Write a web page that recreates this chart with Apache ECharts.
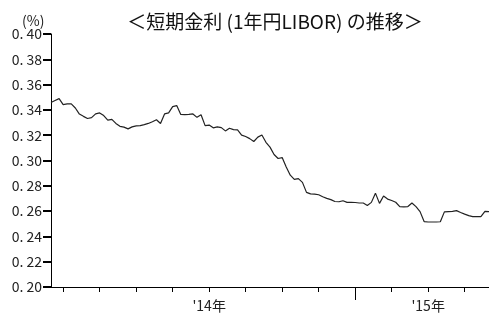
<!DOCTYPE html>
<html>
<head>
<meta charset="utf-8">
<script src="https://cdn.jsdelivr.net/npm/echarts@6/dist/echarts.min.js"></script>
<style>
  html, body { margin: 0; padding: 0; background: #fff; }
  #chart { width: 489px; height: 314px; }
</style>
</head>
<body>
<div id="chart"></div>
<script>
/** 1年円LIBOR (週次, %) */
var rates = [
    0.3459, 0.3474, 0.3489, 0.3442, 0.3448, 0.3448, 0.3415, 0.3367, 0.3349, 0.3332,
    0.3339, 0.3369, 0.3376, 0.3355, 0.3319, 0.3325, 0.3293, 0.3270, 0.3264, 0.3250,
    0.3266, 0.3274, 0.3276, 0.3284, 0.3293, 0.3306, 0.3322, 0.3293, 0.3368, 0.3377,
    0.3426, 0.3434, 0.3364, 0.3362, 0.3364, 0.3368, 0.3341, 0.3362, 0.3276, 0.3280,
    0.3258, 0.3266, 0.3260, 0.3234, 0.3255, 0.3244, 0.3242, 0.3201, 0.3190, 0.3173,
    0.3150, 0.3185, 0.3202, 0.3144, 0.3106, 0.3047, 0.3016, 0.3023, 0.2948, 0.2884,
    0.2851, 0.2857, 0.2827, 0.2748, 0.2736, 0.2734, 0.2729, 0.2713, 0.2701, 0.2691,
    0.2676, 0.2674, 0.2682, 0.2669, 0.2669, 0.2668, 0.2664, 0.2664, 0.2645, 0.2669,
    0.2742, 0.2661, 0.2719, 0.2695, 0.2684, 0.2670, 0.2636, 0.2634, 0.2636, 0.2664,
    0.2635, 0.2596, 0.2517, 0.2514, 0.2514, 0.2514, 0.2516, 0.2594, 0.2596, 0.2598,
    0.2604, 0.2589, 0.2576, 0.2564, 0.2556, 0.2556, 0.2556, 0.2598, 0.2596
];
/** 目盛りを打つ週(先頭から) */
var tickStart = 3;
var tickStep = 9;
/** 年の区切り(長い目盛り) */
var yearBreak = 75;
/** 年ラベル */
var yearLabelIdx = [39, 93];
var yearLabels = ["'14年", "'15年"];

var weeks = [];
for (var i = 0; i < rates.length; i++) {
    weeks.push(i);
}

var font = '"Noto Sans CJK JP", "Noto Sans", sans-serif';

var myChart = echarts.init(document.getElementById('chart'), null, {renderer: 'canvas'});
var option = {
    animation: false,
    backgroundColor: '#fff',
    title: [
        {
            text: '＜短期金利 (1年円LIBOR) の推移＞',
            left: 270,
            top: 7,
            textAlign: 'center',
            textStyle: {fontFamily: font, fontSize: 19, fontWeight: 'normal', color: '#111'}
        },
        {
            text: '(%)',
            left: 17,
            top: 9,
            textStyle: {fontFamily: font, fontSize: 14, fontWeight: 'normal', color: '#222'}
        }
    ],
    grid: {left: 51, right: 0, top: 34, bottom: 27},
    xAxis: [
        {
            type: 'category',
            data: weeks,
            boundaryGap: false,
            axisLine: {lineStyle: {color: '#000', width: 1}},
            axisTick: {
                length: 5,
                lineStyle: {color: '#000', width: 1},
                interval: function (idx) { return idx >= tickStart && (idx - tickStart) % tickStep === 0; }
            },
            axisLabel: {
                margin: 12,
                fontFamily: font,
                fontSize: 14,
                color: '#222',
                interval: function (idx) { return yearLabelIdx.indexOf(idx) >= 0; },
                formatter: function (v) {
                    var k = yearLabelIdx.indexOf(Number(v));
                    return k >= 0 ? yearLabels[k] : '';
                }
            },
            splitLine: {show: false}
        },
        {
            // 年の区切りの長い目盛り
            type: 'category',
            data: weeks,
            boundaryGap: false,
            position: 'bottom',
            axisLine: {show: false},
            axisTick: {
                length: 13,
                lineStyle: {color: '#000', width: 1},
                interval: function (idx) { return idx === yearBreak; }
            },
            axisLabel: {show: false},
            splitLine: {show: false}
        }
    ],
    yAxis: {
        type: 'value',
        min: 0.2,
        max: 0.4,
        interval: 0.02,
        axisLine: {show: true, lineStyle: {color: '#000', width: 1}},
        axisTick: {show: true, length: 8, lineStyle: {color: '#000', width: 2}},
        axisLabel: {
            margin: 9,
            fontFamily: font,
            fontSize: 14,
            color: '#222',
            formatter: function (v) { return v.toFixed(2).replace('.', '. '); }
        },
        splitLine: {show: false}
    },
    series: [
        {
            type: 'line',
            xAxisIndex: 0,
            data: rates,
            showSymbol: false,
            lineStyle: {color: '#222', width: 1.2}
        }
    ]
};
myChart.setOption(option);
</script>
</body>
</html>
